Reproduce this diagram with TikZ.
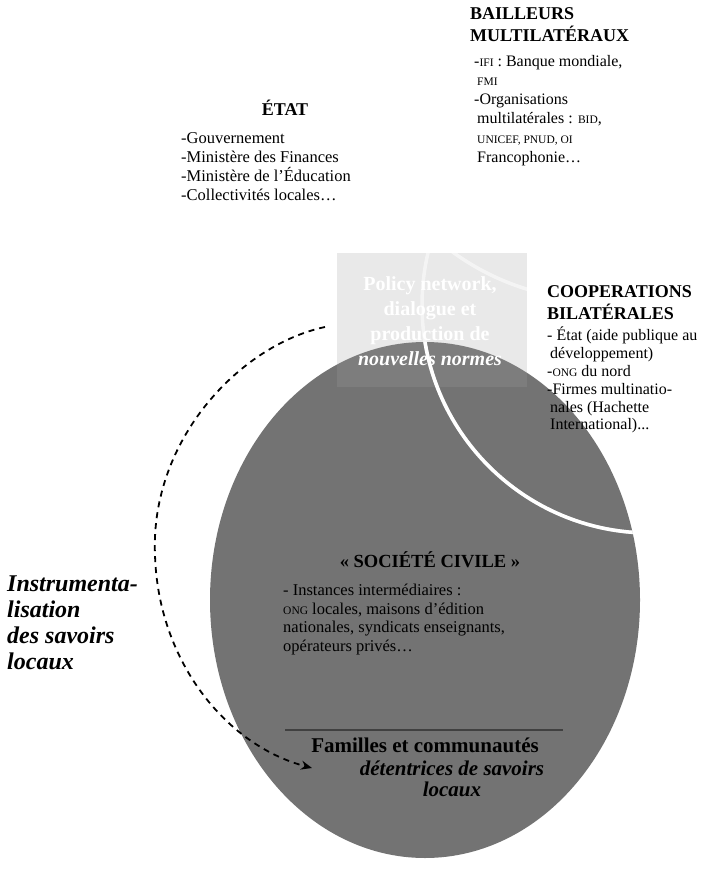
\documentclass[tikz,border=0pt]{standalone}
\usepackage{fontspec}
\setmainfont{Liberation Serif}
\usepackage{xcolor}
\usepackage{tikz}
\usetikzlibrary{positioning,arrows.meta}

\newcommand{\sigle}[1]{{\fontsize{11.5}{11.5}\selectfont #1}}
\newcommand{\ind}{\hspace*{3pt}}

\begin{document}
\begin{tikzpicture}[x=1pt, y=-1pt,
  heading/.style={font=\fontsize{18}{22.5}\selectfont\bfseries, align=left, inner sep=0pt},
  itemlist/.style={font=\fontsize{16}{19.2}\selectfont, align=left, inner sep=0pt},
  whiteline/.style={draw=white, line width=3.5pt},
  pathdash/.style={line width=1.8pt, dash pattern=on 6pt off 5pt}]
  \useasboundingbox (0,0) rectangle (711,886);

  \coordinate (S) at (425, 600);
  \coordinate (R1) at (337, 253);
  \coordinate (R2) at (527, 387);
  \coordinate (B) at (650, 305);
  \coordinate (M) at (600, 50);
  \coordinate (arrS) at (325, 327);
  \coordinate (arrL) at (155, 555);
  \coordinate (arrE) at (312, 768);
  \coordinate (lineL) at (285, 730);
  \coordinate (lineR) at (563, 730);

  \fill[gray!18] (R1) rectangle (R2);
  \fill[black!55] (S) ellipse (215 and 258);
  \fill[white, fill opacity=0.08] (R1) rectangle (R2);
  \draw[whiteline, draw opacity=0.5] (B) circle (228);
  \draw[whiteline, draw opacity=0.5] (M) circle (250);
  \begin{scope}
    \clip (S) ellipse (215 and 258);
    \draw[whiteline] (B) circle (228);
  \end{scope}
  \draw[black!75, line width=1.2pt] (lineL) -- (lineR);

  \draw[pathdash, -{Stealth[length=11pt, width=9pt]}]
    (arrS) .. controls (240, 345) and (150, 440) .. (arrL)
    .. controls (158, 660) and (225, 745) .. (arrE);

  \node[heading, anchor=north west] (multiHead) at (470, 7) {BAILLEURS\\MULTILATÉRAUX};
  \node[itemlist, anchor=north west] (multiList) at (474, 55)
    {-\sigle{IFI} : Banque mondiale,\\ \ind\sigle{FMI}\\-Organisations\\ \ind multilatérales : \sigle{BID},\\
     \ind\sigle{UNICEF, PNUD, OI}\\ \ind Francophonie\ldots};

  \node[heading, anchor=base] (etatHead) at (285, 115) {ÉTAT};
  \node[itemlist, anchor=north west, font=\fontsize{16.5}{19}\selectfont] (etatList) at (181, 132)
    {-Gouvernement\\-Ministère des Finances\\-Ministère de l’Éducation\\-Collectivités locales\ldots};

  \node[heading, anchor=north west, font=\fontsize{18}{22}\selectfont\bfseries] (bilatHead) at (547, 285)
    {COOPERATIONS\\BILATÉRALES};
  \node[itemlist, anchor=north west, font=\fontsize{16}{17.8}\selectfont] (bilatList) at (547, 327)
    {- État (aide publique au\\ \ind développement)\\-\sigle{ONG} du nord\\-Firmes multinatio-\\
     \ind nales (Hachette\\ \ind International)...};

  \node[inner sep=0pt, align=center, text=white, font=\fontsize{20}{25}\selectfont\bfseries,
    anchor=north] (policy) at (430, 276)
    {Policy network,\\dialogue et\\production de\\\textit{nouvelles normes}};

  \node[heading, anchor=base, font=\fontsize{18.5}{22}\selectfont\bfseries] (socHead) at (430, 567)
    {« SOCIÉTÉ CIVILE »};
  \node[itemlist, anchor=north west, font=\fontsize{16.5}{18.5}\selectfont] (socList) at (283, 584)
    {- Instances intermédiaires :\\\sigle{ONG} locales, maisons d’édition\\nationales, syndicats enseignants,\\opérateurs privés\ldots};

  \node[inner sep=0pt, anchor=base, font=\fontsize{21}{21}\selectfont\bfseries] (famHead) at (425, 752)
    {Familles et communautés};
  \node[inner sep=0pt, anchor=north, align=center, font=\fontsize{21}{21}\selectfont\bfseries\itshape]
    (famSub) at (452, 761) {détentrices de savoirs\\locaux};

  \node[inner sep=0pt, anchor=north west, align=left, font=\fontsize{24}{26}\selectfont\bfseries\itshape]
    (instru) at (7, 576) {Instrumenta-\\lisation\\des savoirs\\locaux};
\end{tikzpicture}
\end{document}
